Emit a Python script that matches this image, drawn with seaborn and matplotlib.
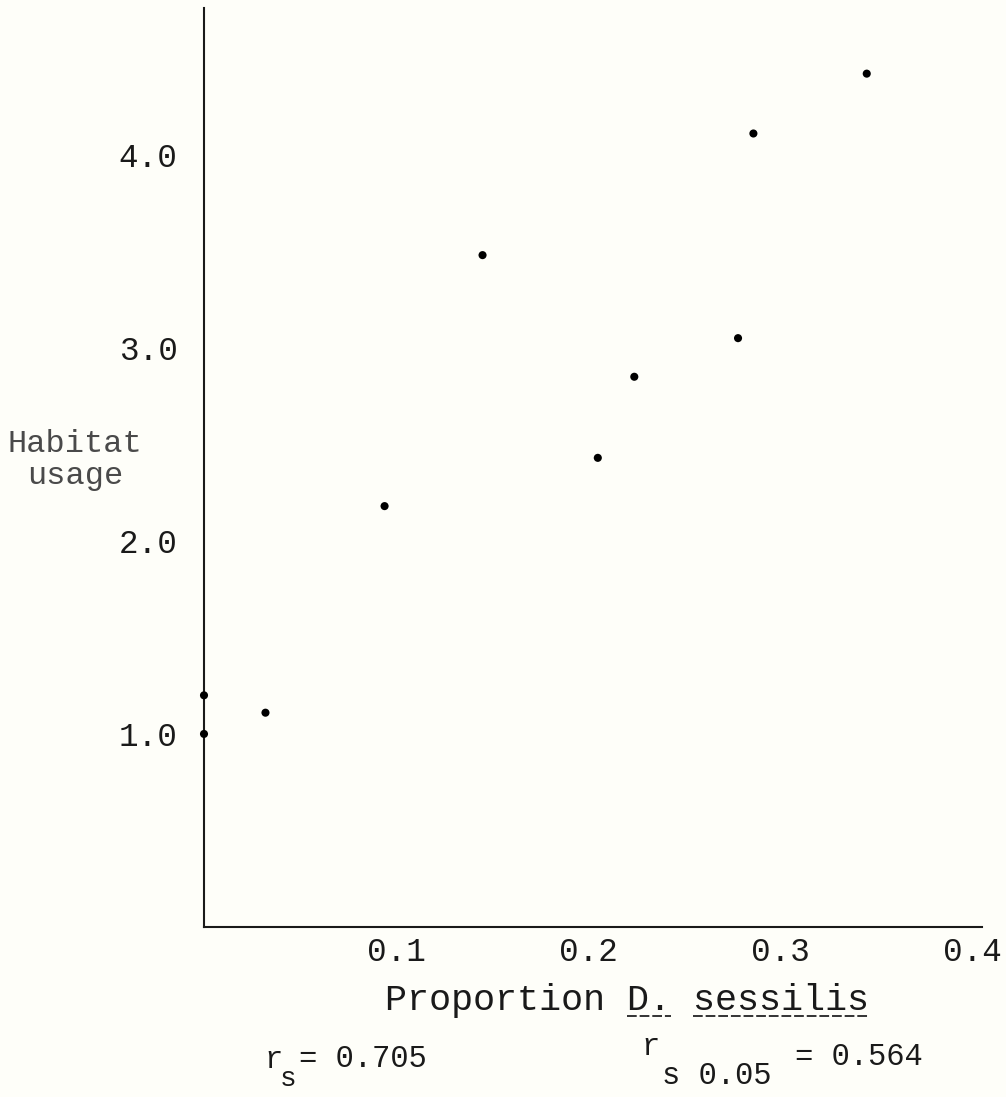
import matplotlib
matplotlib.use("Agg")
import matplotlib.pyplot as plt
from matplotlib.lines import Line2D
import seaborn as sns
import pandas as pd

# values
proportion = [0.0, 0.0, 0.032, 0.094, 0.145, 0.205, 0.224, 0.278, 0.286, 0.345]
usage = [1.0, 1.2, 1.11, 2.18, 3.48, 2.43, 2.85, 3.05, 4.11, 4.42]
x_ticks = [0.1, 0.2, 0.3, 0.4]
x_tick_labels = ["0.1", "0.2", "0.3", "0.4"]
y_ticks = [1, 2, 3, 4]
y_tick_labels = ["1.0", "2.0", "3.0", "4.0"]
rs_value = "0.705"
rs_crit = "0.564"

W, H = 1006, 1097
PAPER = "#fefef9"
INK = "#1a1a1a"

sns.set_style("white")
plt.rcParams["font.family"] = ["Liberation Mono", "DejaVu Sans Mono"]

df = pd.DataFrame({"proportion": proportion, "usage": usage})

fig = plt.figure(figsize=(W / 100, H / 100), dpi=100, facecolor=PAPER)
ax = fig.add_axes([204 / W, 1 - 927 / H, (982 - 204) / W, (927 - 8) / H])
ax.set_facecolor(PAPER)

sns.scatterplot(data=df, x="proportion", y="usage", color="black",
                s=34, edgecolor="none", ax=ax, clip_on=False, zorder=3)

ax.set_xlim(0, 0.405)
ax.set_ylim(0, 4.76)
ax.set_xticks(x_ticks, x_tick_labels)
ax.set_yticks(y_ticks, y_tick_labels)
ax.tick_params(axis="both", length=0, labelsize=23.5, colors=INK)
ax.tick_params(axis="x", pad=7)
ax.tick_params(axis="y", pad=19)
ax.set_xlabel("")
ax.set_ylabel("")
sns.despine(ax=ax)
for side in ["left", "bottom"]:
    ax.spines[side].set_color(INK)
    ax.spines[side].set_linewidth(1.5)


def px(x, y):
    return x / W, 1 - y / H


# y label, typed to the left of the axis
fig.text(*px(75, 460), "Habitat\nusage", ha="center", va="center",
         fontsize=23, color="#4a4a4a", linespacing=1.1)

# x label with typewriter underline under the species name
xlab = fig.text(*px(385, 1000), "Proportion D. sessilis", ha="left",
                va="center", fontsize=26.5, color=INK)
fig.canvas.draw()
bb = xlab.get_window_extent()
cw = bb.width / len("Proportion D. sessilis")
uy = bb.y0 + 2
for start, end in [(11, 13), (14, 22)]:
    fig.add_artist(Line2D([(bb.x0 + start * cw) / W, (bb.x0 + end * cw) / W],
                          [uy / H, uy / H], color="#333333", lw=1.4,
                          linestyle=(0, (5, 1.5))))

# Spearman statistics (typewriter half-line shifts)
stat = dict(ha="left", va="baseline", fontsize=22, color=INK)
fig.text(*px(264, 1068), "r", **stat)
fig.text(*px(280, 1086), "s", **{**stat, "fontsize": 20})
fig.text(*px(299, 1067), "= " + rs_value, **stat)

fig.text(*px(641, 1055), "r", **stat)
fig.text(*px(662, 1084), "s 0.05", **stat)
fig.text(*px(795, 1065), "= " + rs_crit, **stat)

fig.savefig("out.png", dpi=100, facecolor=PAPER)
